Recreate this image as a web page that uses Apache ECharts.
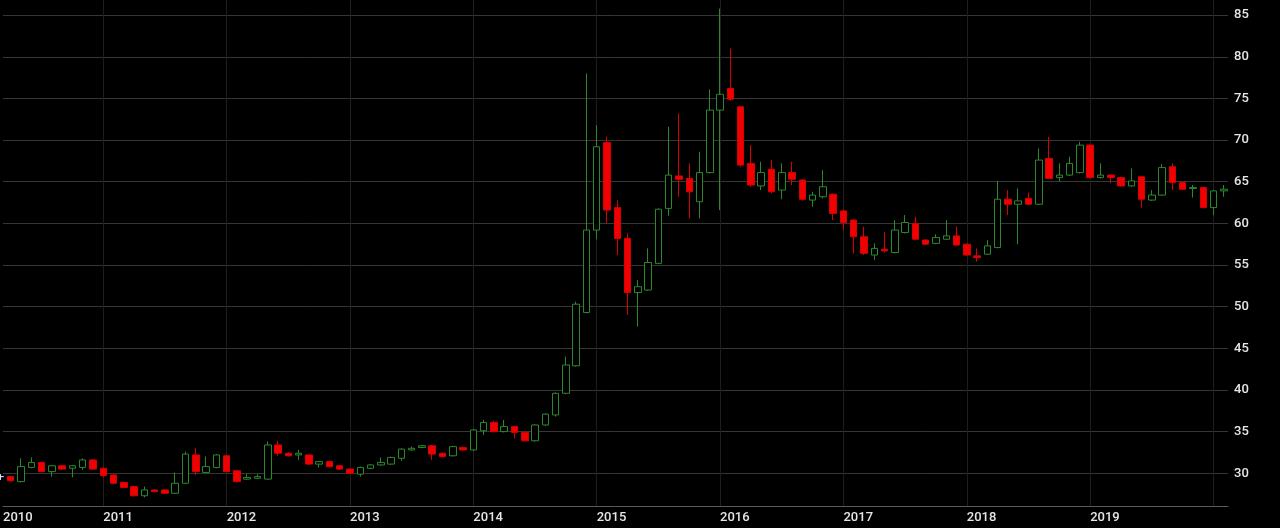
<!DOCTYPE html>
<html>
<head>
<meta charset="utf-8">
<script src="https://cdn.jsdelivr.net/npm/echarts@6/dist/echarts.min.js"></script>
<style>
html,body{margin:0;padding:0;background:#000;}
#chart{width:1280px;height:528px;}
</style>
</head>
<body>
<div id="chart"></div>
<script>
const months = ['2010-03','2010-04','2010-05','2010-06','2010-07','2010-08','2010-09','2010-10','2010-11','2010-12',
'2011-01','2011-02','2011-03','2011-04','2011-05','2011-06','2011-07','2011-08','2011-09','2011-10','2011-11','2011-12',
'2012-01','2012-02','2012-03','2012-04','2012-05','2012-06','2012-07','2012-08','2012-09','2012-10','2012-11','2012-12',
'2013-01','2013-02','2013-03','2013-04','2013-05','2013-06','2013-07','2013-08','2013-09','2013-10','2013-11','2013-12',
'2014-01','2014-02','2014-03','2014-04','2014-05','2014-06','2014-07','2014-08','2014-09','2014-10','2014-11','2014-12',
'2015-01','2015-02','2015-03','2015-04','2015-05','2015-06','2015-07','2015-08','2015-09','2015-10','2015-11','2015-12',
'2016-01','2016-02','2016-03','2016-04','2016-05','2016-06','2016-07','2016-08','2016-09','2016-10','2016-11','2016-12',
'2017-01','2017-02','2017-03','2017-04','2017-05','2017-06','2017-07','2017-08','2017-09','2017-10','2017-11','2017-12',
'2018-01','2018-02','2018-03','2018-04','2018-05','2018-06','2018-07','2018-08','2018-09','2018-10','2018-11','2018-12',
'2019-01','2019-02','2019-03','2019-04','2019-05','2019-06','2019-07','2019-08','2019-09','2019-10','2019-11','2019-12',
'2020-01','2020-02'];

const openV = [29.6,29.6,29.0,30.7,31.3,30.2,30.9,30.6,30.7,31.6,
30.6,29.8,28.9,28.4,27.3,28.0,28.0,27.6,28.8,32.2,30.1,30.7,
32.1,30.3,29.3,29.4,29.3,33.4,32.4,32.2,32.2,31.1,31.4,30.9,
30.5,29.9,30.6,31.0,31.1,31.8,32.8,33.1,33.3,32.4,32.1,33.1,
32.8,35.1,36.1,35.0,35.6,34.9,33.9,35.8,37.0,39.6,42.9,49.3,
59.2,69.7,61.9,58.2,51.7,52.0,55.2,61.8,65.7,65.4,62.6,66.1,
73.6,76.2,74.0,67.2,64.5,66.5,64.0,66.1,65.2,62.8,63.2,63.5,
61.5,60.4,58.4,56.2,56.9,56.5,58.9,60.0,58.0,57.6,58.1,58.5,
57.5,56.1,56.3,57.1,62.9,62.3,63.0,62.3,67.8,65.5,65.8,66.1,
69.4,65.5,65.8,65.5,64.5,65.6,62.8,63.4,66.8,64.9,64.2,64.3,
61.9,63.9];

const closeV = [29.6,29.1,30.8,31.3,30.2,30.9,30.5,30.9,31.6,30.5,
29.7,28.8,28.3,27.3,28.0,27.8,27.6,28.8,32.3,30.2,30.8,32.2,
30.2,29.0,29.5,29.6,33.4,32.4,32.1,32.4,31.1,31.4,30.8,30.5,
30.0,30.7,31.0,31.3,31.9,32.9,33.0,33.3,32.3,32.0,33.2,32.8,
35.2,36.1,35.0,35.6,34.9,33.9,35.8,37.1,39.6,43.0,50.3,59.2,
69.2,61.6,58.2,51.7,52.4,55.3,61.7,65.8,65.3,63.8,66.1,73.6,
75.5,74.9,67.0,64.6,66.1,63.8,66.1,65.3,62.9,63.4,64.4,61.2,
60.1,58.4,56.4,57.0,56.7,59.2,60.1,58.1,57.5,58.3,58.5,57.4,
56.2,55.9,57.3,62.9,62.3,62.7,62.3,67.6,65.4,65.8,67.2,69.4,
65.5,65.8,65.5,64.5,65.1,62.9,63.4,66.7,64.9,64.1,64.3,61.9,
63.9,64.1];

const lowV = [29.2,29.0,28.9,30.6,30.1,29.6,30.4,29.5,30.4,30.4,
29.5,28.7,28.2,27.2,27.1,27.7,27.5,27.5,28.7,29.8,30.0,30.6,
30.1,28.9,29.2,29.3,29.2,32.1,32.0,31.6,31.0,30.7,30.7,30.4,
29.9,29.6,30.5,30.9,31.0,31.5,32.7,33.0,31.6,31.9,32.0,32.7,
32.7,34.6,34.9,34.9,34.2,33.8,33.8,35.7,36.8,39.5,42.8,49.2,
58.1,60.0,56.2,49.0,47.6,51.9,55.1,60.9,63.2,60.6,60.6,66.0,
61.6,74.7,66.8,64.4,64.0,63.6,62.9,64.6,62.7,62.0,63.0,60.4,
59.2,56.4,56.2,55.6,56.5,56.4,58.8,58.0,57.4,57.5,58.0,57.3,
56.1,55.4,56.2,57.0,61.0,57.5,62.2,62.2,65.3,65.0,65.7,66.0,
65.4,65.4,64.8,64.4,64.4,61.9,62.7,63.3,64.0,64.0,63.1,61.8,
61.0,63.2];

const highV = [29.9,29.7,31.8,31.9,31.4,31.0,31.0,31.0,31.8,31.7,
30.7,29.9,29.0,28.5,28.4,28.1,28.1,30.1,32.6,33.0,32.0,32.3,
32.2,30.4,29.9,29.9,33.8,33.9,32.5,32.8,32.3,31.5,31.5,31.0,
30.6,30.8,31.1,31.9,32.0,33.0,33.2,33.4,33.4,32.5,33.3,33.2,
35.3,36.4,36.3,36.4,35.7,35.0,35.9,37.2,39.7,44.0,50.6,78.0,
71.8,70.4,62.8,58.8,53.2,57.0,61.8,71.6,73.2,67.2,68.6,76.1,
85.8,81.0,74.1,69.4,67.4,67.6,67.2,67.4,65.3,63.8,66.4,63.6,
61.7,60.5,59.6,57.6,59.0,60.4,61.0,60.8,58.1,58.7,60.4,59.6,
57.6,57.0,58.0,65.1,64.0,64.2,63.7,69.0,70.4,67.2,68.0,69.8,
69.5,67.2,65.9,65.6,66.6,65.7,64.0,67.1,67.2,65.0,64.6,64.4,
64.0,64.6];

const yearLabels = ['2010','2011','2012','2013','2014','2015','2016','2017','2018','2019'];

function monthToX(s){
  const p = s.split('-');
  return Number(p[0]) + (Number(p[1]) - 1) / 12;
}
const candleData = months.map((m, i) => [monthToX(m), openV[i], closeV[i], lowV[i], highV[i]]);

const chart = echarts.init(document.getElementById('chart'), null, {renderer: 'canvas'});
chart.setOption({
  backgroundColor: '#000000',
  animation: false,
  grid: {left: 0, right: 52, top: 0, bottom: 22, containLabel: false},
  xAxis: {
    type: 'value',
    min: 2010.1873,
    max: 2020.117,
    minInterval: 1,
    maxInterval: 1,
    splitNumber: 10,
    axisLine: {show: true, onZero: false, lineStyle: {color: '#5a5a5a', width: 1}},
    axisTick: {show: false},
    splitLine: {show: true, showMinLine: false, showMaxLine: false, lineStyle: {color: '#1e1e1e', width: 1}},
    axisLabel: {
      show: true,
      showMinLabel: true,
      showMaxLabel: false,
      align: 'left',
      margin: 5,
      color: '#e6e6e6',
      fontFamily: 'Roboto',
      fontSize: 13,
      fontWeight: 500,
      formatter: function (v) {
        const y = String(Math.floor(v + 1e-6));
        return yearLabels.indexOf(y) >= 0 ? y : '';
      }
    }
  },
  yAxis: {
    type: 'value',
    position: 'right',
    min: 26.07,
    max: 86.82,
    minInterval: 5,
    maxInterval: 5,
    scale: true,
    axisLine: {show: false},
    axisTick: {show: false},
    splitLine: {show: true, showMinLine: false, showMaxLine: false, lineStyle: {color: '#363636', width: 1}},
    axisLabel: {
      showMinLabel: false,
      showMaxLabel: false,
      margin: 6,
      color: '#e6e6e6',
      fontFamily: 'Roboto',
      fontSize: 13,
      fontWeight: 500
    }
  },
  series: [{
    type: 'candlestick',
    data: candleData,
    encode: {x: 0, y: [1, 2, 3, 4]},
    barWidth: 7,
    clip: true,
    itemStyle: {
      color: '#000000',
      color0: '#f00000',
      borderColor: '#2c882c',
      borderColor0: '#d80000',
      borderColorDoji: '#cfe0ff',
      borderWidth: 1
    }
  }]
});
</script>
</body>
</html>
